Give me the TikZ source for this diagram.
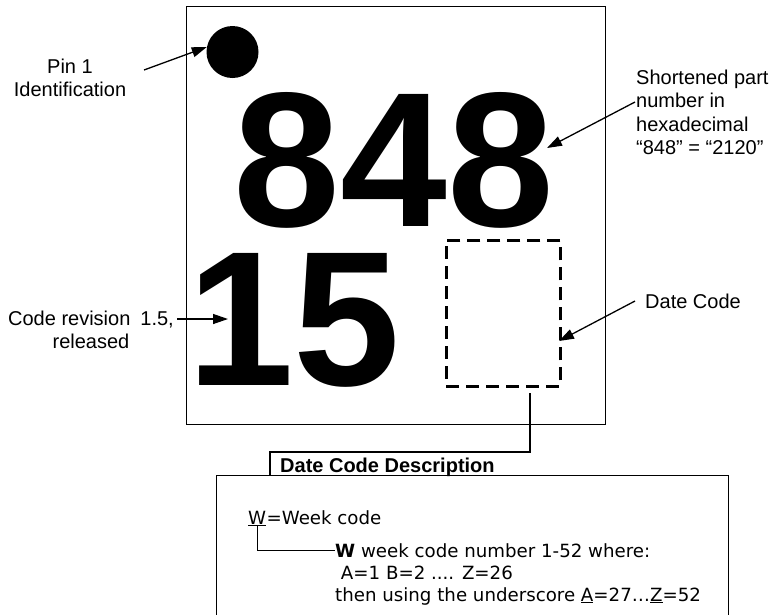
\documentclass[tikz,border=0pt]{standalone}
\usepackage{fontspec}
\setmainfont{Liberation Sans}
\newfontfamily\descfont{DejaVu Sans}
\usetikzlibrary{arrows.meta}
\begin{document}
\begin{tikzpicture}[x=1pt,y=-1pt,
  lbl/.style={font=\fontsize{20}{23.3}\selectfont, inner sep=0pt},
  big/.style={font=\fontsize{192}{192}\selectfont\bfseries, inner sep=0pt, text height=137pt, text depth=0pt},
  ptr/.style={line width=1.3pt, -{Triangle[length=15pt,width=10pt]}},
  thinline/.style={line width=1.3pt},
  desc/.style={font=\descfont\fontsize{18.2}{22}\selectfont, inner sep=0pt, anchor=base west},
]
\useasboundingbox (0,0) rectangle (773,614);

% chip outline
\node[draw, thinline, anchor=north west, minimum width=419pt, minimum height=418pt, inner sep=0pt] (chip) at (186,6) {};
\node[circle, fill, minimum size=52pt, inner sep=0pt] (pin) at (232.5,52) {};
\node[big, anchor=base] (pn) at (394,226) {848};
\node[big, anchor=base east] (rev) at (401,385) {15};
\node[draw, line width=2.5pt, dash pattern=on 13pt off 7pt, anchor=north west, minimum width=114pt, minimum height=146pt, inner sep=0pt] (dc) at (445,239) {};

% labels and pointers
\node[lbl, align=center] (pinl) at (70,78) {Pin 1\\Identification};
\coordinate (pinT) at (144,70);
\draw[ptr] (pinT) -- (pin.169);

\node[lbl, align=left, anchor=north west] (pnl) at (636,70) {Shortened part\\number in\\hexadecimal\\“848” = “2120”};
\coordinate (pnT) at (635,102);
\coordinate (pnH) at (547,148);
\draw[ptr] (pnT) -- (pnH);

\node[lbl, align=center] (revl) at (91,330) {Code revision\enspace 1.5,\\released};
\coordinate (revT) at (177,319);
\coordinate (revH) at (228,319);
\draw[ptr] (revT) -- (revH);

\node[lbl] (dcl) at (693,301) {Date Code};
\coordinate (dcT) at (635,301);
\coordinate (dcH) at (559,341);
\draw[ptr] (dcT) -- (dcH);

% description tab
\coordinate (dcB) at (530,393);
\coordinate (tabTL) at (270,452);
\coordinate (tabBL) at (270,475);
\node[font=\fontsize{20}{24}\selectfont\bfseries, inner sep=0pt, anchor=base west] (tab) at (280,472) {Date Code Description};
\draw[thinline] (dcB) |- (tabTL) -- (tabBL);
\node[draw, thinline, anchor=north west, minimum width=512pt, minimum height=160pt, inner sep=0pt] (descbox) at (216,475) {};

% description text
\node[desc] (w) at (248,524) {\underline{W}};
\node[desc] (wk) at (w.base east) {=Week code};
\node[desc] (l1) at (335,557) {\textbf{W} week code number 1-52 where:};
\node[desc] (l2) at (335,579) {\ A=1 B=2 .... Z=26};
\node[desc] (l3) at (335,601) {then using the underscore \underline{A}=27…\underline{Z}=52};
\draw[thinline] (w.south) |- (l1.west);
\end{tikzpicture}
\end{document}
